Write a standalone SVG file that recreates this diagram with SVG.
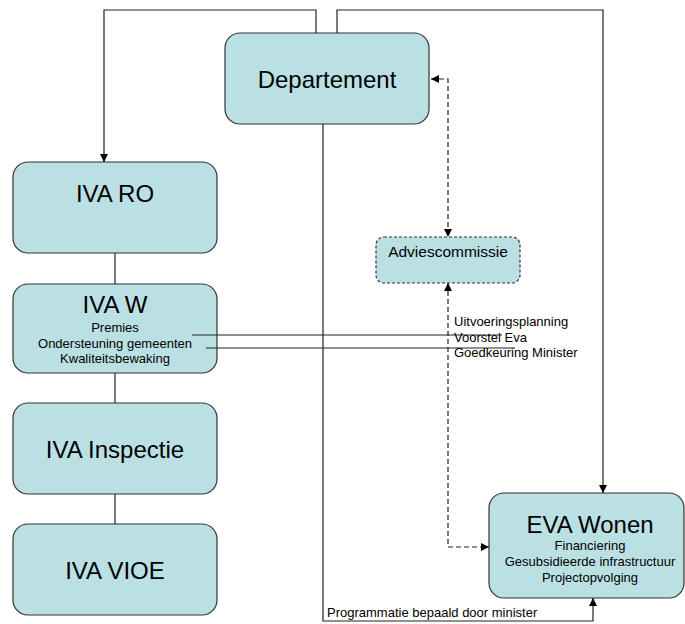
<svg xmlns="http://www.w3.org/2000/svg" width="685" height="624" viewBox="0 0 685 624">
<defs>
<marker id="ah" viewBox="0 0 10 10" refX="10" refY="5" markerWidth="8" markerHeight="8" markerUnits="userSpaceOnUse" orient="auto-start-reverse">
<path d="M0,0 L10,5 L0,10 z" fill="#000"/>
</marker>
</defs>
<style>
.box{fill:#bbe0e3;stroke:#333;stroke-width:1.2}
.dbox{fill:#bbe0e3;stroke:#333;stroke-width:1.2;stroke-dasharray:3 2}
.c{fill:none;stroke:#222;stroke-width:1.2}
.d{fill:none;stroke:#222;stroke-width:1.2;stroke-dasharray:5 3}
text{font-family:"Liberation Sans",Arial,sans-serif;fill:#000}
.t{font-size:24px;text-anchor:middle}
.s{font-size:13px;text-anchor:middle}
.l{font-size:13px}
</style>
<rect width="685" height="624" fill="#fff"/>
<g id="departement">
<rect class="box" x="225" y="33" width="204" height="91" rx="15"/>
<text class="t" x="327" y="88">Departement</text>
</g>
<g id="iva-ro">
<rect class="box" x="13" y="162" width="204" height="91" rx="15"/>
<text class="t" x="115" y="202">IVA RO</text>
</g>
<g id="iva-w">
<rect class="box" x="13" y="284" width="204" height="89" rx="15"/>
<text class="t" x="115" y="313">IVA W</text>
<text class="s" x="115" y="332">Premies</text>
<text class="s" x="115" y="348">Ondersteuning gemeenten</text>
<text class="s" x="115" y="363">Kwaliteitsbewaking</text>
</g>
<g id="iva-inspectie">
<rect class="box" x="13" y="403" width="204" height="91" rx="15"/>
<text class="t" x="115" y="458">IVA Inspectie</text>
</g>
<g id="iva-vioe">
<rect class="box" x="13" y="524" width="204" height="91" rx="15"/>
<text class="t" x="115" y="579">IVA VIOE</text>
</g>
<g id="adviescommissie">
<rect class="dbox" x="376" y="237" width="144" height="46" rx="8"/>
<text x="448" y="257" style="font-size:15.5px;text-anchor:middle">Adviescommissie</text>
</g>
<g id="eva-wonen">
<rect class="box" x="489" y="493" width="195" height="105" rx="15"/>
<text class="t" x="590" y="533">EVA Wonen</text>
<text class="s" x="590" y="550">Financiering</text>
<text class="s" x="590" y="566">Gesubsidieerde infrastructuur</text>
<text class="s" x="590" y="582">Projectopvolging</text>
</g>
<g id="connectors">
<path class="c" d="M316,33 V10 H104 V162" marker-end="url(#ah)"/>
<path class="c" d="M337,33 V10 H603 V493" marker-end="url(#ah)"/>
<path class="c" d="M323,124 V621 H593 V598" marker-end="url(#ah)"/>
<path class="c" d="M115,253 V284"/>
<path class="c" d="M115,373 V403"/>
<path class="c" d="M115,494 V524"/>
<path class="d" d="M431,79 H448 V237" marker-start="url(#ah)" marker-end="url(#ah)"/>
<path class="d" d="M448,283 V547 H489" marker-start="url(#ah)" marker-end="url(#ah)"/>
<path class="c" d="M192,335 H502"/>
<path class="c" d="M206,348 H515"/>
<text class="l" x="454" y="326">Uitvoeringsplanning</text>
<text class="l" x="454" y="342">Voorstel Eva</text>
<text class="l" x="454" y="357">Goedkeuring Minister</text>
<text class="l" x="327" y="617">Programmatie bepaald door minister</text>
</g>
</svg>
